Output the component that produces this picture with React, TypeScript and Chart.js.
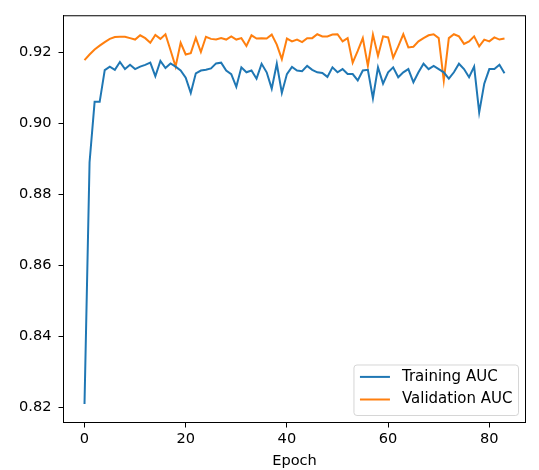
import { useEffect, useRef } from 'react';
import { Chart, registerables } from 'chart.js';

Chart.register(...registerables);

const epochs = [
  0, 1, 2, 3, 4, 5, 6, 7, 8, 9, 10, 11, 12, 13, 14, 15, 16, 17, 18, 19, 20,
  21, 22, 23, 24, 25, 26, 27, 28, 29, 30, 31, 32, 33, 34, 35, 36, 37, 38, 39, 40,
  41, 42, 43, 44, 45, 46, 47, 48, 49, 50, 51, 52, 53, 54, 55, 56, 57, 58, 59, 60,
  61, 62, 63, 64, 65, 66, 67, 68, 69, 70, 71, 72, 73, 74, 75, 76, 77, 78, 79, 80,
  81, 82, 83,
];

const trainingAUC = [
  0.821, 0.889, 0.906, 0.906, 0.9149, 0.9159, 0.915, 0.9172, 0.9152, 0.9164,
  0.9152, 0.9159, 0.9164, 0.917, 0.9132, 0.9175, 0.9155, 0.9168, 0.9159, 0.9148,
  0.9128, 0.9085, 0.914, 0.9148, 0.915, 0.9154, 0.9168, 0.917, 0.9148, 0.9138,
  0.9102, 0.9157, 0.9143, 0.9148, 0.9125, 0.9167, 0.9143, 0.9097, 0.9167, 0.9085,
  0.9138, 0.9158, 0.9148, 0.9146, 0.9161, 0.915, 0.9143, 0.9141, 0.913, 0.9157,
  0.9143, 0.9152, 0.9138, 0.9138, 0.912, 0.9148, 0.915, 0.907, 0.9157, 0.9111,
  0.9143, 0.9157, 0.9129, 0.9143, 0.9152, 0.9115, 0.9143, 0.9167, 0.9152, 0.9161,
  0.9152, 0.9143, 0.9125, 0.9143, 0.9167, 0.9152, 0.9129, 0.9159, 0.903, 0.9111,
  0.9152, 0.9152, 0.9164, 0.914,
];

const validationAUC = [
  0.9177, 0.9193, 0.9207, 0.9218, 0.9228, 0.9237, 0.9242, 0.9243, 0.9243, 0.9239,
  0.9235, 0.9247, 0.9239, 0.9226, 0.9248, 0.9237, 0.925, 0.9205, 0.9159, 0.9226,
  0.9193, 0.9197, 0.924, 0.92, 0.9243, 0.9237, 0.9235, 0.9239, 0.9235, 0.9244,
  0.9235, 0.9239, 0.9217, 0.9247, 0.9238, 0.9239, 0.9238, 0.9249, 0.9221, 0.918,
  0.9238, 0.923, 0.9235, 0.9228, 0.9239, 0.9239, 0.925, 0.9244, 0.9244, 0.9249,
  0.925, 0.923, 0.9239, 0.917, 0.9203, 0.9239, 0.9161, 0.9249, 0.9189, 0.9244,
  0.9241, 0.9184, 0.9216, 0.925, 0.9213, 0.9215, 0.923, 0.9239, 0.9247, 0.925,
  0.9239, 0.912, 0.9239, 0.925, 0.9244, 0.9223, 0.923, 0.9244, 0.9216, 0.9235,
  0.923, 0.9241, 0.9235, 0.9238,
];

const seriesLabels = ['Training AUC', 'Validation AUC'];
const seriesColors = ['#1f77b4', '#ff7f0e'];
const xTicks = [0, 20, 40, 60, 80];
const yTicks = [0.82, 0.84, 0.86, 0.88, 0.9, 0.92];
const xTitle = 'Epoch';

const FONT = 'DejaVu Sans';
const FS = 14.6;
const LEG_FS = 15;

const framePlugin = {
  id: 'frame',
  afterDatasetsDraw(chart: any) {
    const { ctx, chartArea: a } = chart;
    ctx.save();
    ctx.strokeStyle = '#000';
    ctx.lineWidth = 1;
    ctx.strokeRect(a.left, a.top, a.right - a.left, a.bottom - a.top);
    ctx.restore();
  },
};

const legendPlugin = {
  id: 'mplLegend',
  afterDraw(chart: any) {
    const { ctx, chartArea: a } = chart;
    const ds = chart.data.datasets;
    ctx.save();
    ctx.font = `${LEG_FS}px "${FONT}"`;
    const maxW = Math.max(...ds.map((d: any) => ctx.measureText(d.label).width));
    const pad = 0.4 * LEG_FS;
    const handle = 2 * LEG_FS;
    const gap = 0.8 * LEG_FS;
    const boxW = pad + handle + gap + maxW + pad;
    const boxH = 50.5;
    const right = a.right - 7;
    const bottom = a.bottom - 7;
    const left = right - boxW;
    const top = bottom - boxH;
    const r = 3;
    ctx.beginPath();
    ctx.moveTo(left + r, top);
    ctx.lineTo(right - r, top);
    ctx.quadraticCurveTo(right, top, right, top + r);
    ctx.lineTo(right, bottom - r);
    ctx.quadraticCurveTo(right, bottom, right - r, bottom);
    ctx.lineTo(left + r, bottom);
    ctx.quadraticCurveTo(left, bottom, left, bottom - r);
    ctx.lineTo(left, top + r);
    ctx.quadraticCurveTo(left, top, left + r, top);
    ctx.closePath();
    ctx.fillStyle = 'rgba(255,255,255,0.8)';
    ctx.fill();
    ctx.strokeStyle = 'rgba(204,204,204,0.8)';
    ctx.lineWidth = 1;
    ctx.stroke();
    const rowGap = 22.6;
    const row2 = bottom - 16;
    ds.forEach((d: any, i: number) => {
      const y = row2 - (ds.length - 1 - i) * rowGap;
      const hx = left + pad;
      ctx.beginPath();
      ctx.strokeStyle = d.borderColor;
      ctx.lineWidth = 2;
      ctx.moveTo(hx, y);
      ctx.lineTo(hx + handle, y);
      ctx.stroke();
      ctx.fillStyle = '#000';
      ctx.textBaseline = 'middle';
      ctx.textAlign = 'left';
      ctx.fillText(d.label, hx + handle + gap, y);
    });
    ctx.restore();
  },
};

export default function App() {
  const ref = useRef<HTMLCanvasElement | null>(null);

  useEffect(() => {
    if (!ref.current) return;
    const allY = [...trainingAUC, ...validationAUC];
    const yLo = Math.min(...allY);
    const yHi = Math.max(...allY);
    const yM = (yHi - yLo) * 0.05;
    const xLo = Math.min(...epochs);
    const xHi = Math.max(...epochs);
    const xM = (xHi - xLo) * 0.05;
    const series = [trainingAUC, validationAUC];

    const chart = new Chart(ref.current, {
      type: 'line',
      data: {
        datasets: series.map((vals, i) => ({
          label: seriesLabels[i],
          data: epochs.map((e, j) => ({ x: e, y: vals[j] })),
          borderColor: seriesColors[i],
          backgroundColor: seriesColors[i],
          borderWidth: 2,
          pointRadius: 0,
          tension: 0,
          fill: false,
        })),
      },
      options: {
        animation: false,
        responsive: false,
        devicePixelRatio: 1,
        layout: { padding: { left: 0, top: 7.5, right: 13.5, bottom: 0 } },
        plugins: {
          legend: { display: false },
          tooltip: { enabled: false },
        },
        scales: {
          x: {
            type: 'linear',
            min: xLo - xM,
            max: xHi + xM,
            afterBuildTicks: (s: any) => {
              s.ticks = xTicks.map((v) => ({ value: v }));
            },
            afterFit: (s: any) => {
              s.height = 47.5;
            },
            grid: {
              display: true,
              drawOnChartArea: false,
              drawTicks: true,
              tickLength: 5,
              color: '#000',
              lineWidth: 1,
            },
            border: { display: true, color: '#000', width: 1 },
            ticks: {
              color: '#000',
              font: { family: FONT, size: FS },
              padding: 3,
              maxRotation: 0,
              autoSkip: false,
              callback: (v: any) => String(v),
            },
            title: {
              display: true,
              text: xTitle,
              color: '#000',
              font: { family: FONT, size: FS },
              padding: { top: 0, bottom: 0 },
            },
          },
          y: {
            type: 'linear',
            min: yLo - yM,
            max: yHi + yM,
            afterBuildTicks: (s: any) => {
              s.ticks = yTicks.map((v) => ({ value: v }));
            },
            afterFit: (s: any) => {
              s.width = 63.5;
            },
            grid: {
              display: true,
              drawOnChartArea: false,
              drawTicks: true,
              tickLength: 5,
              color: '#000',
              lineWidth: 1,
            },
            border: { display: true, color: '#000', width: 1 },
            ticks: {
              color: '#000',
              font: { family: FONT, size: FS },
              padding: 7,
              autoSkip: false,
              callback: (v: any) => Number(v).toFixed(2),
            },
          },
        },
      },
      plugins: [framePlugin, legendPlugin],
    } as any);

    return () => chart.destroy();
  }, []);

  return (
    <div style={{ position: 'fixed', left: 0, top: 0, width: 539, height: 470, background: '#fff' }}>
      <canvas ref={ref} width={539} height={470} style={{ width: 539, height: 470, display: 'block' }} />
    </div>
  );
}
